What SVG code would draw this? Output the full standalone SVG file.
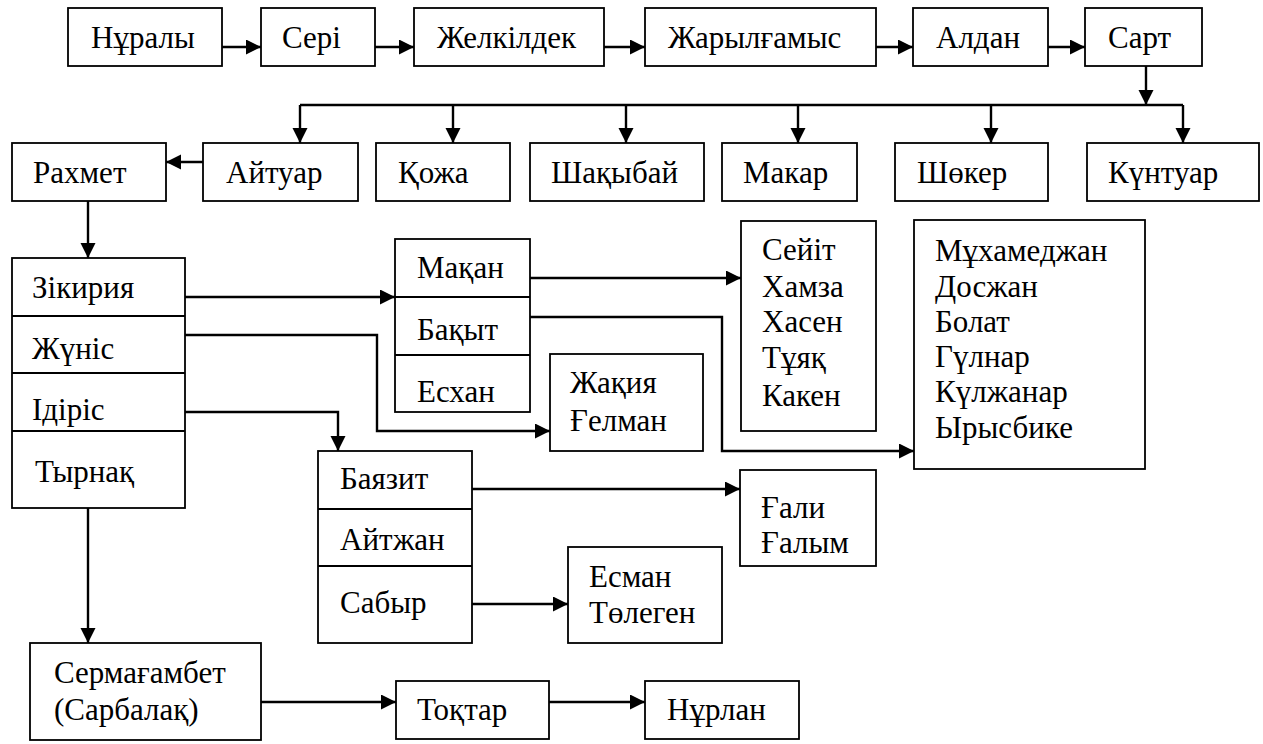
<svg xmlns="http://www.w3.org/2000/svg" width="1263" height="744" viewBox="0 0 1263 744" style="font-family:'Times New Roman','Liberation Serif',serif">
<style>
rect,line.d{fill:#fff;stroke:#000;stroke-width:1.8}
.d{stroke:#000;stroke-width:1.8}
.t{fill:#000;font-size:31px;font-family:'Times New Roman','Liberation Serif',serif}
.c path{fill:none;stroke:#000;stroke-width:2.4}
</style>
<defs>
<marker id="ah" markerUnits="userSpaceOnUse" markerWidth="16" markerHeight="16" refX="15" refY="7.5" orient="auto">
<path d="M0,0 L15,7.5 L0,15 Z" fill="#000"/>
</marker>
</defs>
<rect width="1263" height="744" fill="#fff" style="stroke:none"/>
<g class="c" id="connectors">
<path d="M222,47 H261" marker-end="url(#ah)"/>
<path d="M375,47 H414" marker-end="url(#ah)"/>
<path d="M604,47 H645" marker-end="url(#ah)"/>
<path d="M876,47 H913" marker-end="url(#ah)"/>
<path d="M1048,47 H1085" marker-end="url(#ah)"/>
<path d="M1146,66 V105" marker-end="url(#ah)"/>
<path d="M300,105 H1183"/>
<path d="M300,105 V143" marker-end="url(#ah)"/>
<path d="M453,105 V143" marker-end="url(#ah)"/>
<path d="M626,105 V143" marker-end="url(#ah)"/>
<path d="M798,105 V143" marker-end="url(#ah)"/>
<path d="M991,105 V143" marker-end="url(#ah)"/>
<path d="M1183,105 V143" marker-end="url(#ah)"/>
<path d="M203,162 H166" marker-end="url(#ah)"/>
<path d="M88,201 V258" marker-end="url(#ah)"/>
<path d="M185,297 H395" marker-end="url(#ah)"/>
<path d="M185,335 H377 V431 H550" marker-end="url(#ah)"/>
<path d="M185,412 H338 V451" marker-end="url(#ah)"/>
<path d="M530,278 H741" marker-end="url(#ah)"/>
<path d="M530,317 H722 V451 H914" marker-end="url(#ah)"/>
<path d="M472,489 H740" marker-end="url(#ah)"/>
<path d="M472,604 H568" marker-end="url(#ah)"/>
<path d="M88,508 V643" marker-end="url(#ah)"/>
<path d="M261,702 H396" marker-end="url(#ah)"/>
<path d="M549,702 H645" marker-end="url(#ah)"/>
</g>
<g id="n-nuraly"><rect x="68" y="8" width="154" height="58"/><text class="t" x="91" y="48" font-family="Times New Roman">Нұралы</text></g>
<g id="n-seri"><rect x="261" y="8" width="114" height="58"/><text class="t" x="282" y="48" font-family="Times New Roman">Сері</text></g>
<g id="n-zhelkildek"><rect x="414" y="8" width="190" height="58"/><text class="t" x="437" y="48" font-family="Times New Roman">Желкілдек</text></g>
<g id="n-zharylgamys"><rect x="645" y="8" width="231" height="58"/><text class="t" x="668" y="48" font-family="Times New Roman">Жарылғамыс</text></g>
<g id="n-aldan"><rect x="913" y="8" width="135" height="58"/><text class="t" x="936" y="48" font-family="Times New Roman">Алдан</text></g>
<g id="n-sart"><rect x="1085" y="8" width="117" height="58"/><text class="t" x="1108" y="48" font-family="Times New Roman">Сарт</text></g>
<g id="n-rakhmet"><rect x="12" y="143" width="154" height="58"/><text class="t" x="33" y="183" font-family="Times New Roman">Рахмет</text></g>
<g id="n-aytuar"><rect x="203" y="143" width="155" height="58"/><text class="t" x="226" y="183" font-family="Times New Roman">Айтуар</text></g>
<g id="n-kozha"><rect x="376" y="143" width="134" height="58"/><text class="t" x="398" y="183" font-family="Times New Roman">Қожа</text></g>
<g id="n-shakybai"><rect x="530" y="143" width="174" height="58"/><text class="t" x="551" y="183" font-family="Times New Roman">Шақыбай</text></g>
<g id="n-makar"><rect x="722" y="143" width="135" height="58"/><text class="t" x="743" y="183" font-family="Times New Roman">Макар</text></g>
<g id="n-shoker"><rect x="895" y="143" width="153" height="58"/><text class="t" x="917" y="183" font-family="Times New Roman">Шөкер</text></g>
<g id="n-kuntuar"><rect x="1087" y="143" width="172" height="58"/><text class="t" x="1108" y="183" font-family="Times New Roman">Күнтуар</text></g>
<g id="n-zikiriya-table">
<rect x="12" y="258" width="173" height="250"/>
<line class="d" x1="12" y1="316" x2="185" y2="316"/>
<line class="d" x1="12" y1="373" x2="185" y2="373"/>
<line class="d" x1="12" y1="431" x2="185" y2="431"/>
<text class="t" x="32" y="298">Зікирия</text>
<text class="t" x="32" y="359">Жүніс</text>
<text class="t" x="32" y="420">Ідіріс</text>
<text class="t" x="35" y="482">Тырнақ</text>
</g>
<g id="n-makan-table">
<rect x="395" y="239" width="135" height="173"/>
<line class="d" x1="395" y1="297" x2="530" y2="297"/>
<line class="d" x1="395" y1="355" x2="530" y2="355"/>
<text class="t" x="417" y="278">Мақан</text>
<text class="t" x="417" y="340">Бақыт</text>
<text class="t" x="417" y="402">Есхан</text>
</g>
<g id="n-seyit">
<rect x="741" y="221" width="135" height="210"/>
<text class="t" x="762" y="260">Сейіт</text>
<text class="t" x="762" y="297">Хамза</text>
<text class="t" x="762" y="332">Хасен</text>
<text class="t" x="762" y="368">Тұяқ</text>
<text class="t" x="762" y="406">Какен</text>
</g>
<g id="n-zhakiya">
<rect x="550" y="354" width="153" height="97"/>
<text class="t" x="570" y="393">Жақия</text>
<text class="t" x="570" y="431">Ғелман</text>
</g>
<g id="n-mukhamedzhan">
<rect x="914" y="220" width="231" height="249"/>
<text class="t" x="935" y="261">Мұхамеджан</text>
<text class="t" x="935" y="297">Досжан</text>
<text class="t" x="935" y="332">Болат</text>
<text class="t" x="935" y="367">Гүлнар</text>
<text class="t" x="935" y="402">Күлжанар</text>
<text class="t" x="935" y="438">Ырысбике</text>
</g>
<g id="n-bayazit-table">
<rect x="318" y="451" width="154" height="192"/>
<line class="d" x1="318" y1="509" x2="472" y2="509"/>
<line class="d" x1="318" y1="566" x2="472" y2="566"/>
<text class="t" x="340" y="489">Баязит</text>
<text class="t" x="340" y="550">Айтжан</text>
<text class="t" x="340" y="613">Сабыр</text>
</g>
<g id="n-gali">
<rect x="740" y="470" width="136" height="96"/>
<text class="t" x="761" y="518">Ғали</text>
<text class="t" x="761" y="553">Ғалым</text>
</g>
<g id="n-esman">
<rect x="568" y="547" width="154" height="96"/>
<text class="t" x="589" y="587">Есман</text>
<text class="t" x="589" y="623">Төлеген</text>
</g>
<g id="n-sermagambet">
<rect x="30" y="643" width="231" height="97"/>
<text class="t" x="54" y="683">Сермағамбет</text>
<text class="t" x="54" y="720">(Сарбалақ)</text>
</g>
<g id="n-toktar"><rect x="396" y="681" width="153" height="58"/><text class="t" x="417" y="720">Тоқтар</text></g>
<g id="n-nurlan"><rect x="645" y="681" width="154" height="58"/><text class="t" x="667" y="720">Нұрлан</text></g>
</svg>
